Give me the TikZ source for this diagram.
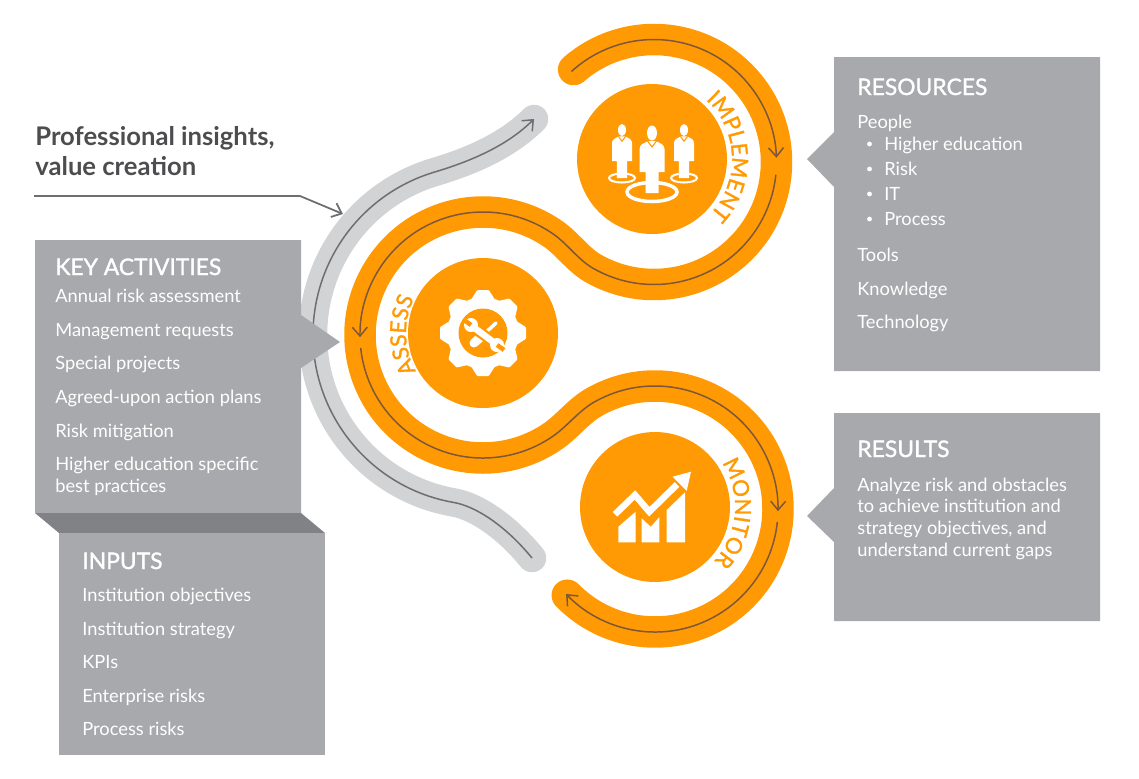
\documentclass[tikz,border=0pt]{standalone}
\usepackage{xcolor}
\usepackage{fontspec}
\setmainfont{Lato}
\newfontfamily\headfont[FakeBold=1.4]{Lato}
\usetikzlibrary{
  arrows.meta,
  positioning,
  decorations.text}
\definecolor{ringorange}{HTML}{FF9A05}
\definecolor{ringbrown}{HTML}{7D5738}
\definecolor{lanegray}{HTML}{D1D3D4}
\definecolor{linegray}{HTML}{6D6E71}
\definecolor{boxgray}{HTML}{A7A9AC}
\definecolor{foldgray}{HTML}{808285}
\definecolor{titlegray}{HTML}{4D4D4F}
\newcommand{\arclabel}{\headfont\fontsize{12.6}{13}\selectfont}
\tikzset{
  disk/.style={circle, fill=ringorange, minimum size=3cm, inner sep=0pt},
  ring/.style={draw=ringorange, line width=0.63cm, line cap=round},
  ringline/.style={draw=ringbrown, line width=0.85pt},
  lane/.style={draw=lanegray, line width=0.57cm, line cap=round},
  laneline/.style={draw=linegray, line width=0.85pt},
  boxfill/.style={fill=boxgray},
  boxhead/.style={anchor=base west, inner sep=0pt, text=white, font=\headfont\fontsize{13}{15}\selectfont},
  boxtext/.style={anchor=base west, inner sep=0pt, text=white, font=\fontsize{10.4}{12}\selectfont},
  title/.style={anchor=base west, inner sep=0pt, text=titlegray, font=\bfseries\fontsize{14.6}{16}\selectfont},
  ringtext/.style={decorate, decoration={text along path, text color=ringorange, text align=center, text={#1}}},
  person/.pic={
    \fill[white] (-12.5,-21) -- (-12.5,-44) .. controls (-12.5,-49) and (-7,-50) .. (-4,-52) -- (4,-52) .. controls (7,-50) and (12.5,-49) .. (12.5,-44) -- (12.5,-21) -- (6.5,-21) -- (6.5,0) -- (-6.5,0) -- (-6.5,-21) -- cycle;
    \fill[white] (0,-60) ellipse[x radius=5, y radius=7.5];
    \draw[ringorange, line width=0.6pt] (-4.5,-52) -- (0,-46) -- (4.5,-52);
  }
}
\begin{document}
\begin{tikzpicture}[x=0.02cm, y=-0.02cm, >={Straight Barb[length=5pt,width=8.5pt]}]
\useasboundingbox (0,0) rectangle (1139,778);

\coordinate (impl) at (654,162);
\coordinate (asse) at (483,335);
\coordinate (moni) at (655,509);
\coordinate (laneback) at (483,335);
\coordinate (lanestart) at (532,558);
\coordinate (laneend) at (534,119);
\coordinate (insightstart) at (34,196);
\coordinate (insightbend) at (300,196);
\coordinate (insighttip) at (343,214);

\draw[lane] (lanestart) .. controls (505,525) and (475,506) .. ([shift={(100:170)}]laneback) arc[start angle=100, end angle=253, radius=170] .. controls (465,163) and (505,148) .. (laneend);
\draw[laneline, ->] (lanestart) .. controls (505,525) and (475,506) .. ([shift={(100:170)}]laneback) arc[start angle=100, end angle=253, radius=170] .. controls (465,163) and (505,148) .. (laneend);

\draw[ring] ([shift={(229:122.5)}]impl) arc[start angle=229, end angle=480, radius=122.5] .. controls (578,259.5) and (567.5,244) .. ([shift={(305:123)}]asse) arc[start angle=305, end angle=55, radius=123] .. controls (567.4,426) and (578.8,411) .. ([shift={(240:123)}]moni) arc[start angle=240, end angle=495.5, radius=123];
\draw[ringline, ->] ([shift={(227.7:122.5)}]impl) arc[start angle=227.7, end angle=358, radius=122.5];
\draw[ringline, ->] ([shift={(366:122.5)}]impl) arc[start angle=366, end angle=480, radius=122.5] .. controls (578,259.5) and (567.5,244) .. ([shift={(305:123)}]asse) arc[start angle=305, end angle=179, radius=123];
\draw[ringline, ->] ([shift={(174:123)}]asse) arc[start angle=174, end angle=55, radius=123] .. controls (567.4,426) and (578.8,411) .. ([shift={(240:123)}]moni) arc[start angle=240, end angle=361, radius=123];
\draw[ringline, ->] ([shift={(366:123)}]moni) arc[start angle=366, end angle=496.3, radius=123];

\node[disk] (impldisk) at (652,159) {};
\node[disk] (assedisk) at (483,333) {};
\node[disk] (monidisk) at (655,507) {};

\path[ringtext={|\arclabel|IMPLEMENT}] ([shift={(-52:80)}]impldisk.center) arc[start angle=-52, end angle=48, radius=80];
\path[ringtext={|\arclabel|ASSESS}] ([shift={(146:77)}]assedisk.center) arc[start angle=146, end angle=211, radius=77];
\path[ringtext={|\arclabel|MONITOR}] ([shift={(-38:80)}]monidisk.center) arc[start angle=-38, end angle=47, radius=80];

\draw[white, line width=2pt] (652,192) ellipse[x radius=25, y radius=9.5];
\draw[white, line width=1.15pt] (622,178) ellipse[x radius=13, y radius=4.5];
\draw[white, line width=1.15pt] (684,178) ellipse[x radius=13, y radius=4.5];
\pic at (652,193) {person};
\pic[scale=0.8] at (622,178) {person};
\pic[scale=0.8] at (684,178) {person};

\foreach \a in {0,45,...,315}
  \filldraw[white, line width=0.06cm, line join=round, shift={(assedisk.center)}, rotate=\a] (32,-11) -- (41.5,-5) -- (41.5,5) -- (32,11) -- cycle;
\fill[white] (assedisk.center) circle[radius=36];
\fill[ringorange] (assedisk.center) circle[radius=24.5];
\draw[white, line width=0.18cm, line cap=round] (474,343) -- (483,335);
\draw[white, line width=0.07cm, line cap=round] (483,335) -- (496,323);
\draw[ringorange, line width=0.22cm] (474,328) -- (494,342);
\draw[white, line width=0.13cm] (472,326) -- (496,344);
\fill[white] (471,325) circle[radius=7];
\fill[white] (497,345) circle[radius=7];
\draw[ringorange, line width=0.09cm] (471,325) -- (464,320);
\draw[ringorange, line width=0.09cm] (497,345) -- (504,350);

\fill[white] (618.3,542.3) -- (618.3,526.7) -- (635.7,511.7) -- (635.7,542.3) -- cycle;
\fill[white] (641.7,542.3) -- (641.7,518.3) -- (650.7,526.7) -- (659.3,517.3) -- (659.3,542.3) -- cycle;
\fill[white] (666.7,542.3) -- (666.7,510) -- (685,492.3) -- (685,542.3) -- cycle;
\draw[white, line width=0.13cm, miter limit=10] (615,514.3) -- (635,495) -- (649.3,511.7) -- (677,484.5);
\fill[white] (691,471.7) -- (672.7,476.7) -- (686.7,490.7) -- cycle;

\draw[laneline, ->, line width=1pt] (insightstart) -- (insightbend) -- (insighttip);
\node[title] (insights) at (35,145) {Professional insights,};
\node[title] (creation) at (35,175) {value creation};

\fill[boxfill] (35,240) -- (301,240) -- (301,315) -- (340,342) -- (301,368) -- (301,513) -- (35,513) -- cycle;
\fill[foldgray] (35,513) -- (301,513) -- (325,533) -- (59,533) -- cycle;
\fill[boxfill] (59,533) rectangle (325,755);
\fill[boxfill] (834,57) -- (1100,57) -- (1100,371) -- (834,371) -- (834,187) -- (807,159) -- (834,132) -- cycle;
\fill[boxfill] (834,413) -- (1100,413) -- (1100,621) -- (834,621) -- (834,542) -- (807,516) -- (834,488) -- cycle;

\node[boxhead] (activities) at (55,275) {KEY ACTIVITIES};
\foreach \yy/\txt in {302/Annual risk assessment, 336/Management requests, 369/Special projects, 403/Agreed-upon action plans, 437/Risk mitigation, 470/Higher education specific, 492/best practices}
  \node[boxtext] (act\yy) at (55,\yy) {\txt};

\node[boxhead] (inputs) at (82,569) {INPUTS};
\foreach \yy/\txt in {601/Institution objectives, 635/Institution strategy, 668/KPIs, 702/Enterprise risks, 735/Process risks}
  \node[boxtext] (inp\yy) at (82,\yy) {\txt};

\node[boxhead] (resources) at (857,95) {RESOURCES};
\foreach \yy/\txt in {128/People, 261/Tools, 295/Knowledge, 328/Technology}
  \node[boxtext] (res\yy) at (857,\yy) {\txt};
\foreach \yy/\txt in {150/Higher education, 175/Risk, 200/IT, 225/Process}{
  \node[boxtext] (peo\yy) at (884,\yy) {\txt};
  \fill[white] (869.5,\yy-6) circle[radius=2.4];
}

\node[boxhead] (results) at (857,457) {RESULTS};
\foreach \yy/\txt in {491/Analyze risk and obstacles, 512/to achieve institution and, 534/{strategy objectives, and}, 556/understand current gaps}
  \node[boxtext] (out\yy) at (857,\yy) {\txt};
\end{tikzpicture}
\end{document}
